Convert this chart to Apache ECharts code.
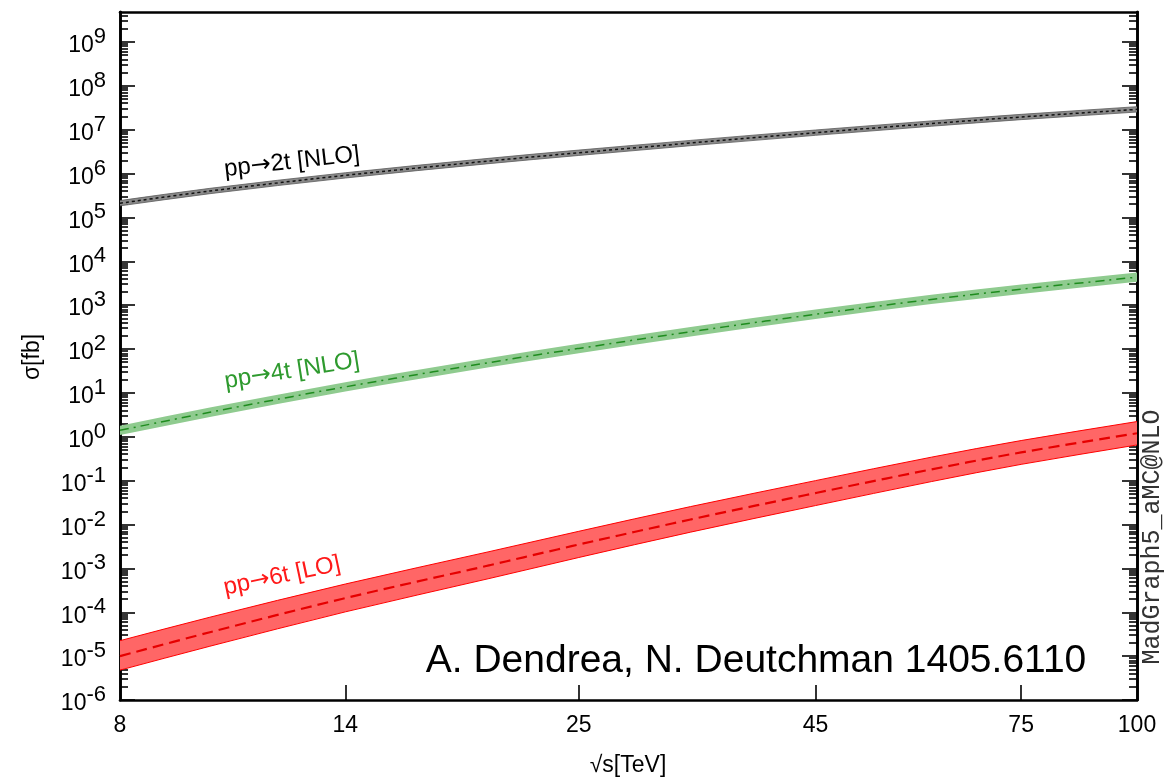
<!DOCTYPE html>
<html><head><meta charset="utf-8">
<script src="https://cdn.jsdelivr.net/npm/echarts@6/dist/echarts.min.js"></script>
<style>html,body{margin:0;padding:0;background:#fff}#c{width:1165px;height:781px}</style>
</head><body><div id="c"></div><script>
// ---- data ----
const sqrtS = [8, 10, 14, 20, 25, 33, 45, 60, 75, 100];           // TeV
const xTickLabels = [8, 14, 25, 45, 75, 100];
const yDecades = [-6, -5, -4, -3, -2, -1, 0, 1, 2, 3, 4, 5, 6, 7, 8, 9];
const yTop = 4.8e9;

const tt2Center = [2.1e5, 3.99e5, 9.08e5, 1.93e6, 2.97e6, 4.95e6, 8.53e6, 1.374e7, 1.94e7, 2.9e7];
const tt2Lower  = [1.83e5, 3.47e5, 7.9e5, 1.68e6, 2.58e6, 4.31e6, 7.42e6, 1.195e7, 1.69e7, 2.52e7];
const tt2Upper  = [2.42e5, 4.59e5, 1.04e6, 2.22e6, 3.42e6, 5.69e6, 9.81e6, 1.58e7, 2.23e7, 3.34e7];

const tt4Center = [1.40, 3.62, 13.7, 49, 103, 248, 618, 1350, 2310, 4340];
const tt4Lower  = [1.09, 2.83, 10.7, 38.3, 80.5, 194, 483, 1055, 1805, 3390];
const tt4Upper  = [1.79, 4.63, 17.5, 62.7, 132, 317, 791, 1728, 2957, 5555];

const tt6Center = [1.0e-5, 3.5e-5, 2.1e-4, 1.17e-3, 3.5e-3, 1.3e-2, 5.2e-2, 0.18, 0.44, 1.2];
const tt6Lower  = [4.8e-6, 1.68e-5, 1.02e-4, 5.85e-4, 1.77e-3, 6.7e-3, 2.7e-2, 9.5e-2, 0.235, 0.65];
const tt6Upper  = [2.25e-5, 7.7e-5, 4.4e-4, 2.4e-3, 7.0e-3, 2.56e-2, 0.10, 0.342, 0.82, 2.22];

const curveProc = ['2t [NLO]', '4t [NLO]', '6t [LO]'];
const xTitle = '\u221As[TeV]';
const yTitle = '\u03C3[fb]';
const credit = 'A. Dendrea, N. Deutchman 1405.6110';
const generator = 'MadGraph5_aMC@NLO';

// ---- helpers ----
const L = Math.log10;
const SMOOTH = 1 / 3;
const pairs = ys => sqrtS.map((s, i) => [L(s), L(ys[i])]);
const bandRows = (lo, up) => sqrtS.map((s, i) => [L(s), L(lo[i]), L(up[i])]);

const FONT = "'Liberation Sans', Arial, Helvetica, sans-serif";
const YMIN = yDecades[0], YMAX = L(yTop);
const XMIN = L(xTickLabels[0]), XMAX = L(xTickLabels[xTickLabels.length - 1]);
const majorY = yDecades.slice();
const minorY = [];
yDecades.forEach(n => { for (let k = 2; k <= 9; k++) { const v = n + L(k); if (v < YMAX) minorY.push(v); } });
const xLabelVals = xTickLabels.map(L);
const xTickVals = xTickLabels.slice(1, -1).map(L);

// cubic bezier segments through pixel points, same rule as ECharts line smoothing
function bezierSegs(p) {
  const n = p.length, out = [];
  const cpIn = [], cpOut = [];
  for (let i = 0; i < n; i++) {
    const prev = p[Math.max(i - 1, 0)], next = p[Math.min(i + 1, n - 1)], cur = p[i];
    const vx = next[0] - prev[0], vy = next[1] - prev[1];
    const d0 = Math.hypot(cur[0] - prev[0], cur[1] - prev[1]);
    const d1 = Math.hypot(next[0] - cur[0], next[1] - cur[1]);
    const r = (d0 + d1) > 0 ? d1 / (d0 + d1) : 0.5;
    cpIn.push([cur[0] - vx * SMOOTH * (1 - r), cur[1] - vy * SMOOTH * (1 - r)]);
    cpOut.push([cur[0] + vx * SMOOTH * r, cur[1] + vy * SMOOTH * r]);
  }
  for (let i = 0; i < n - 1; i++) {
    out.push('C' + cpOut[i][0] + ' ' + cpOut[i][1] + ' ' + cpIn[i + 1][0] + ' ' + cpIn[i + 1][1] + ' ' + p[i + 1][0] + ' ' + p[i + 1][1]);
  }
  return out.join(' ');
}

function yAxisDef(pos, ticks, len, labels) {
  return {
    type: 'value', position: pos, min: YMIN, max: YMAX,
    axisLine: { show: true, onZero: false, lineStyle: { color: '#000', width: 2.6 } },
    axisTick: { show: true, inside: true, length: len, customValues: ticks, lineStyle: { color: '#000', width: 1.6 } },
    axisLabel: labels ? {
      show: true, margin: 14, customValues: majorY,
      formatter: v => '{b|10}{s|' + Math.round(v) + '}',
      rich: {
        b: { fontSize: 23, fontFamily: FONT, color: '#000', padding: [8, 0, 0, 0] },
        s: { fontSize: 22, fontFamily: FONT, color: '#000', padding: [0, 0, 10, 0] }
      }
    } : { show: false },
    splitLine: { show: false }
  };
}

function band(lo, up, fill, edge, edgeW) {
  return {
    type: 'custom', silent: true, z: 2,
    data: bandRows(lo, up),
    encode: { x: 0, y: [1, 2] },
    renderItem: function (params, api) {
      if (params.dataIndexInside !== 0) return null;
      const n = params.dataInsideLength;
      const top = [], bot = [];
      for (let j = 0; j < n; j++) {
        top.push(api.coord([api.value(0, j), api.value(2, j)]));
        bot.push(api.coord([api.value(0, j), api.value(1, j)]));
      }
      const botR = bot.slice().reverse();
      const area = 'M' + top[0][0] + ' ' + top[0][1] + ' ' + bezierSegs(top) +
        ' L' + botR[0][0] + ' ' + botR[0][1] + ' ' + bezierSegs(botR) + ' Z';
      const children = [{ type: 'path', shape: { pathData: area }, style: { fill: fill, stroke: null } }];
      if (edgeW > 0) {
        children.push({ type: 'path', shape: { pathData: 'M' + top[0][0] + ' ' + top[0][1] + ' ' + bezierSegs(top) },
          style: { fill: null, stroke: edge, lineWidth: edgeW } });
        children.push({ type: 'path', shape: { pathData: 'M' + bot[0][0] + ' ' + bot[0][1] + ' ' + bezierSegs(bot) },
          style: { fill: null, stroke: edge, lineWidth: edgeW } });
      }
      return { type: 'group', children: children };
    }
  };
}

function center(ys, color, width, dash) {
  return { type: 'line', data: pairs(ys), symbol: 'none', silent: true, z: 3, smooth: SMOOTH,
    lineStyle: { color: color, width: width, type: dash } };
}

function label(proc, x, y, deg, color, size) {
  return { type: 'text', x: x, y: y, rotation: deg * Math.PI / 180, z: 10,
    style: { text: '{a|pp}{r|\u2192}{a|' + proc + '}', align: 'center', verticalAlign: 'middle',
      rich: {
        a: { fontSize: size, fontFamily: FONT, fill: color, color: color },
        r: { fontSize: size, fontFamily: "'DejaVu Sans', sans-serif", fill: color, color: color }
      } } };
}

function plainText(txt, x, y, deg, size) {
  return { type: 'text', x: x, y: y, rotation: deg * Math.PI / 180, z: 10,
    style: { text: txt, fill: '#000', font: size + 'px ' + FONT, align: 'center', verticalAlign: 'middle' } };
}

const chart = echarts.init(document.getElementById('c'), null, { renderer: 'canvas' });
chart.setOption({
  animation: false,
  backgroundColor: '#fff',
  grid: { left: 120, right: 28, top: 12, bottom: 81 },
  xAxis: [
    { type: 'value', position: 'bottom', min: XMIN, max: XMAX,
      axisLine: { show: true, onZero: false, lineStyle: { color: '#000', width: 2.6 } },
      axisTick: { show: true, inside: true, length: 15, customValues: xTickVals, lineStyle: { color: '#000', width: 1.6 } },
      axisLabel: { show: true, margin: 14, customValues: xLabelVals,
        formatter: v => String(Math.round(Math.pow(10, v))),
        fontSize: 23, fontFamily: FONT, color: '#000' },
      splitLine: { show: false } },
    { type: 'value', position: 'top', min: XMIN, max: XMAX,
      axisLine: { show: true, onZero: false, lineStyle: { color: '#000', width: 2.6 } },
      axisTick: { show: false }, axisLabel: { show: false }, splitLine: { show: false } }
  ],
  yAxis: [
    yAxisDef('left', majorY, 15, true),
    yAxisDef('left', minorY, 8, false),
    yAxisDef('right', majorY, 15, false),
    yAxisDef('right', minorY, 8, false)
  ],
  series: [
    band(tt2Lower, tt2Upper, '#8a8a8a', '#5a5a5a', 0.8),
    band(tt4Lower, tt4Upper, '#8fcb8f', '#8fcb8f', 0),
    band(tt6Lower, tt6Upper, '#ff6666', '#ff0000', 1),
    center(tt2Center, '#111', 1.5, [3, 3]),
    center(tt4Center, '#1e8c1e', 1.5, [9, 5, 2, 5]),
    center(tt6Center, '#e60000', 2.2, [11, 6])
  ],
  graphic: [
    label(curveProc[0], 292, 162, 6.5, '#000', 24),
    label(curveProc[1], 292, 371, 9, '#2e9a2e', 24),
    label(curveProc[2], 282, 576, 12, '#ff1a1a', 24),
    plainText(yTitle, 33, 357, 90, 23),
    plainText(xTitle, 628, 766, 0, 23),
    plainText(credit, 756, 661, 0, 39),
    { type: 'text', x: 1152, y: 537, rotation: Math.PI / 2, z: 10,
      style: { text: generator, fill: '#333', font: "25px 'Liberation Mono', 'DejaVu Sans Mono', monospace",
        align: 'center', verticalAlign: 'middle' } }
  ]
});
</script></body></html>
